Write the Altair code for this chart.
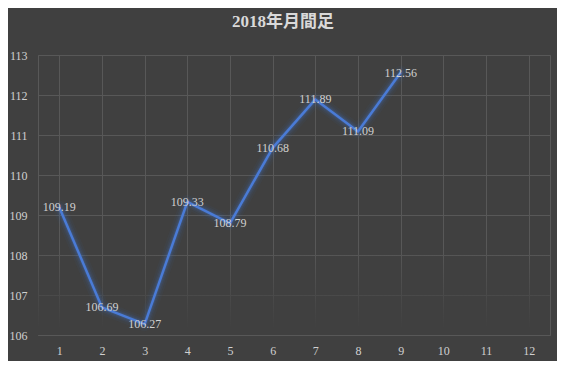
import altair as alt
import pandas as pd

months = [str(m) for m in range(1, 13)]
values = [109.19, 106.69, 106.27, 109.33, 108.79, 110.68, 111.89, 111.09, 112.56]
title_text = "2018年月間足"
y_ticks = [106, 107, 108, 109, 110, 111, 112, 113]

BG = "#404040"
GRID = "#585858"
TXT = "#d0d0d0"
BLUE = "#4472C4"
FONT = "Liberation Serif, Noto Sans CJK JP"

df = pd.DataFrame({"month": months[:len(values)], "value": values})
df["label"] = [f"{v:.2f}" for v in values]

yscale = alt.Scale(domain=[106, 113], nice=False, zero=False)
yaxis = alt.Axis(title=None, values=y_ticks, ticks=False, labelOverlap=False,
                 domain=False, gridColor=GRID, labelPadding=11, zindex=0,
                 labelFontSize=12, labelColor=TXT, labelFont=FONT)
xaxis = alt.Axis(title=None, labelAngle=0, ticks=False, domain=False,
                 grid=True, bandPosition=0, gridColor=GRID, zindex=0,
                 labelPadding=10, labelFontSize=12, labelColor=TXT,
                 labelFont=FONT)

xenc = alt.X("month:O", sort=months,
             scale=alt.Scale(domain=months, paddingInner=0, paddingOuter=0),
             axis=xaxis)
yenc = alt.Y("value:Q", scale=yscale, axis=yaxis)

base = alt.Chart(df)

fade = alt.Chart(pd.DataFrame({"y0": [106], "y1": [108.2]})).mark_rect(
    opacity=1, fillOpacity=1,
    fill=alt.Gradient(gradient="linear", x1=0, y1=1, x2=0, y2=0,
                      stops=[alt.GradientStop(color="#404040", offset=0),
                             alt.GradientStop(color="#404040", offset=0.08),
                             alt.GradientStop(color="rgba(64,64,64,0)", offset=1)])
).encode(y=alt.Y("y0:Q", scale=yscale, axis=yaxis), y2="y1:Q")

glows = []
for w, op in [(14, 0.05), (10, 0.08), (7, 0.12), (4.5, 0.18)]:
    glows.append(base.mark_line(color=BLUE, strokeWidth=w, opacity=op,
                                strokeJoin="round", strokeCap="round").encode(x=xenc, y=yenc))

line = base.mark_line(color="#4a7bd6", strokeWidth=2.5, strokeJoin="round").encode(x=xenc, y=yenc)

labels = base.mark_text(font=FONT, fontSize=12, color=TXT, baseline="middle",
                        align="center").encode(x=xenc, y=yenc, text="label:N")

chart = alt.layer(fade, *glows, line, labels).properties(
    width=512, height=280,
    autosize=alt.AutoSizeParams(type="none"),
    padding={"left": 30, "top": 47, "right": 7, "bottom": 26},
    background=BG,
    title=alt.TitleParams(title_text, font=FONT, fontSize=17, fontWeight="bold",
                          color="#d9d9d9", anchor="middle", dx=-11, offset=18),
).configure_view(stroke=GRID).resolve_scale(y="shared")

chart.save("out.html", embed_options={"renderer": "svg", "actions": False})
